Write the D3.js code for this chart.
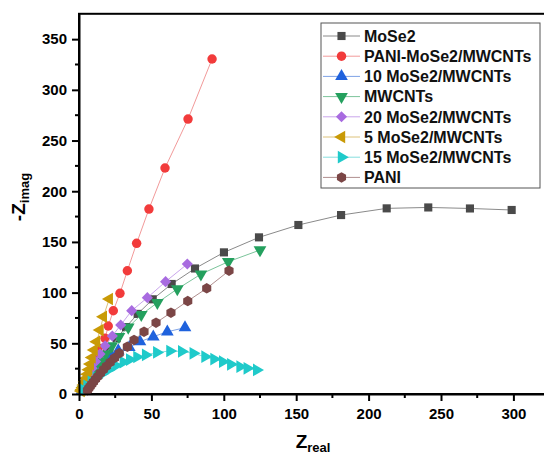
<!DOCTYPE html>
<html>
<head>
<meta charset="utf-8">
<script src="https://cdn.jsdelivr.net/npm/d3@7/dist/d3.min.js"></script>
<style>
  html, body { margin: 0; padding: 0; background: #fff; }
  svg { display: block; font-family: "Liberation Sans", Arial, sans-serif; }
</style>
</head>
<body>
<svg id="chart" width="544" height="457"></svg>
<script>
// Nyquist data: Z_real (x) and -Z_imag (y) per sample
const seriesNames = ["MoSe2", "PANI-MoSe2/MWCNTs", "10 MoSe2/MWCNTs", "MWCNTs",
  "20 MoSe2/MWCNTs", "5 MoSe2/MWCNTs", "15 MoSe2/MWCNTs", "PANI"];

const mose2X = [298.8, 270, 241.2, 212.5, 181, 151.5, 124.3, 100.1, 80.1, 64, 50.9, 40.5, 32.5, 26, 21, 17, 13.5, 10.5, 8, 6, 4.5, 3];
const mose2Y = [181.5, 183, 184, 183.1, 176.5, 166.7, 154.5, 139.7, 123.8, 108.5, 93.4, 79, 66, 55, 45.5, 37, 29.5, 23, 17, 12, 8, 4.5];

const paniMoX = [91.9, 75.3, 59.4, 48.3, 39.8, 33.4, 28.3, 23.7, 20.2, 18.0, 15.6, 13.6, 12, 10.5, 9.2, 8, 7, 6, 5];
const paniMoY = [330.4, 271.2, 222.9, 182.4, 148.6, 121.6, 99.3, 82.1, 67.1, 54.9, 45, 37, 30, 24, 19, 15, 11, 8, 5];

const mo10X = [73.2, 61, 51.3, 42.1, 34.7, 27.1, 22, 18, 14.5, 11.5, 9, 6.8, 5, 3.5, 2.2];
const mo10Y = [65.4, 61.4, 56.5, 51.6, 46, 42.7, 38, 33, 28, 23, 18, 14, 10, 6.5, 3.5];

const mwcntX = [125, 103.1, 84.2, 67.9, 54.1, 43, 34, 27.6, 22.6, 18.5, 15, 12, 9.5, 7.3, 5.5, 4, 2.8];
const mwcntY = [142, 130.5, 118.2, 103.6, 90, 78.2, 65.8, 56.5, 47.3, 39.5, 32.5, 26, 20.5, 15.5, 11, 7.5, 4.5];

const mo20X = [74.8, 59.8, 47.2, 36.4, 28.8, 23, 18, 14.5, 11.5, 9, 7, 5.3, 3.8, 2.6];
const mo20Y = [128.2, 110.8, 95, 82.2, 68, 57.2, 47.6, 39.5, 32, 25.5, 19.5, 14, 9.5, 5.5];

const mo5X = [20.9, 16.8, 14.5, 12.2, 10.4, 9, 7.8, 6.7, 5.8, 4.9, 4.1, 3.3, 2.6, 2, 1.5];
const mo5Y = [93.7, 76.2, 63.1, 51.6, 43.4, 36, 29.5, 24, 19.5, 15.5, 12, 9, 6.5, 4.5, 3];

const mo15X = [122.7, 116.2, 111.2, 104.8, 99.2, 93.2, 87, 78.9, 70.9, 62.8, 53.7, 46, 40, 35, 30.6, 25.5, 20.5, 16, 12, 8.5, 5.5, 3.2];
const mo15Y = [23.7, 25.3, 26.9, 29.3, 31.9, 34.5, 36.8, 40.1, 42, 42.4, 41, 38.5, 36.5, 34, 31.5, 28, 24, 20, 16, 12, 8, 4];

const paniX = [103.6, 88.2, 75.1, 63.5, 53.2, 44.9, 38, 33.4, 27.8, 24.5, 21.5, 19, 16.8, 14.8, 13, 11.4, 10, 8.8, 7.7, 6.7, 5.8];
const paniY = [121.6, 104.2, 91.7, 80.2, 70.3, 61.4, 53.3, 46.6, 40.1, 35.5, 31.2, 27.4, 24, 20.5, 17.3, 14.6, 12, 9.8, 7.6, 5.6, 3.6];

const xTicks = [0, 50, 100, 150, 200, 250, 300];
const yTicks = [0, 50, 100, 150, 200, 250, 300, 350];

const seriesXs = [mose2X, paniMoX, mo10X, mwcntX, mo20X, mo5X, mo15X, paniX];
const seriesYs = [mose2Y, paniMoY, mo10Y, mwcntY, mo20Y, mo5Y, mo15Y, paniY];

const colors = ["#4a4a4a", "#f23b3b", "#1f62dd", "#24a05e", "#a86be0", "#c99a06", "#1fcaca", "#7b4646"];
const lineColors = ["#8a8a8a", "#f29a9a", "#7fa3e6", "#7cc49b", "#c9a6ec", "#ddc27a", "#86dede", "#b08f8f"];

// hexagon marker path
const hexagon = {
  draw(ctx, size) {
    const r = Math.sqrt(size / (1.5 * Math.sqrt(3)));
    for (let i = 0; i < 6; i++) {
      const a = Math.PI / 6 + i * Math.PI / 3;
      const px = r * Math.cos(a), py = r * Math.sin(a);
      if (i === 0) ctx.moveTo(px, py); else ctx.lineTo(px, py);
    }
    ctx.closePath();
  }
};

const markers = [
  { type: d3.symbolSquare, size: 66, rot: 0 },
  { type: d3.symbolCircle, size: 70, rot: 0 },
  { type: d3.symbolTriangle, size: 70, rot: 0 },
  { type: d3.symbolTriangle, size: 70, rot: 180 },
  { type: d3.symbolSquare, size: 62, rot: 45 },
  { type: d3.symbolTriangle, size: 70, rot: -90 },
  { type: d3.symbolTriangle, size: 70, rot: 90 },
  { type: hexagon, size: 72, rot: 0 }
];

const svg = d3.select("#chart");
const x = d3.scaleLinear().domain([0, 325]).range([79, 549.6]);
const y = d3.scaleLinear().domain([0, 375]).range([394, 13.8]);

// plot frame
svg.append("rect")
  .attr("x", x(0)).attr("y", y(375))
  .attr("width", x(325) - x(0)).attr("height", y(0) - y(375))
  .attr("fill", "none").attr("stroke", "#000").attr("stroke-width", 2);

// series lines and markers
seriesNames.forEach((name, i) => {
  const pts = seriesXs[i].map((v, k) => [v, seriesYs[i][k]]);
  const line = d3.line().x(d => x(d[0])).y(d => y(d[1]));
  svg.append("path")
    .attr("d", line(pts))
    .attr("fill", "none")
    .attr("stroke", lineColors[i])
    .attr("stroke-width", 1);
  const sym = d3.symbol().type(markers[i].type).size(markers[i].size);
  svg.append("g").selectAll("path")
    .data(pts).join("path")
    .attr("d", sym)
    .attr("transform", d => `translate(${x(d[0])},${y(d[1])}) rotate(${markers[i].rot})`)
    .attr("fill", colors[i]);
});

// minor ticks
const minorX = d3.range(25, 325, 50);
const minorY = d3.range(25, 375, 50);
svg.append("g").selectAll("line").data(minorX).join("line")
  .attr("x1", d => x(d)).attr("x2", d => x(d))
  .attr("y1", y(0)).attr("y2", y(0) + 4)
  .attr("stroke", "#000").attr("stroke-width", 2);
svg.append("g").selectAll("line").data(minorY).join("line")
  .attr("y1", d => y(d)).attr("y2", d => y(d))
  .attr("x1", x(0)).attr("x2", x(0) - 4)
  .attr("stroke", "#000").attr("stroke-width", 2);

// axes
const xAxis = svg.append("g")
  .attr("transform", `translate(0,${y(0)})`)
  .call(d3.axisBottom(x).tickValues(xTicks).tickSize(7).tickPadding(7).tickSizeOuter(0));
const yAxis = svg.append("g")
  .attr("transform", `translate(${x(0)},0)`)
  .call(d3.axisLeft(y).tickValues(yTicks).tickSize(7).tickPadding(5).tickSizeOuter(0));
[xAxis, yAxis].forEach(g => {
  g.select(".domain").attr("stroke", "#000").attr("stroke-width", 2);
  g.selectAll(".tick line").attr("stroke", "#000").attr("stroke-width", 2);
  g.selectAll(".tick text")
    .attr("fill", "#000")
    .style("font-size", "15px")
    .style("font-weight", "bold")
    .style("font-family", "'Liberation Sans', Arial, sans-serif");
});

// axis titles
const xt = svg.append("text")
  .attr("x", 313).attr("y", 448)
  .attr("text-anchor", "middle")
  .style("font-weight", "bold");
xt.append("tspan").style("font-size", "19px").text("Z");
xt.append("tspan").style("font-size", "13px").attr("dy", 4).text("real");

const yt = svg.append("text")
  .attr("transform", "translate(25,197) rotate(-90)")
  .attr("text-anchor", "middle")
  .style("font-weight", "bold");
yt.append("tspan").style("font-size", "19px").text("-Z");
yt.append("tspan").style("font-size", "13px").attr("dy", 4).text("imag");

// legend
const lg = svg.append("g");
lg.append("rect")
  .attr("x", 321).attr("y", 23).attr("width", 219).attr("height", 165)
  .attr("fill", "#fff").attr("stroke", "#555").attr("stroke-width", 1);
seriesNames.forEach((name, i) => {
  const cy = 36 + 20.2 * i;
  lg.append("line")
    .attr("x1", 323).attr("x2", 360).attr("y1", cy).attr("y2", cy)
    .attr("stroke", lineColors[i]).attr("stroke-width", 1);
  lg.append("path")
    .attr("d", d3.symbol().type(markers[i].type).size(markers[i].size)())
    .attr("transform", `translate(341.5,${cy}) rotate(${markers[i].rot})`)
    .attr("fill", colors[i]);
  lg.append("text")
    .attr("x", 364).attr("y", cy).attr("dy", "0.36em")
    .style("font-size", "16px").style("font-weight", "bold")
    .attr("fill", "#111")
    .text(name);
});
</script>
</body>
</html>
